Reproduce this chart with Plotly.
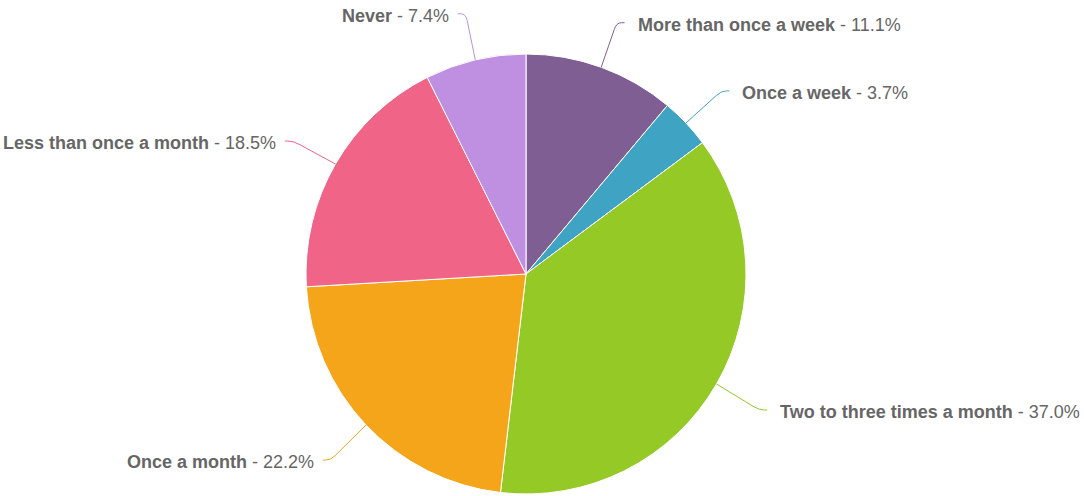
import math
import plotly.graph_objects as go

categories = ["More than once a week", "Once a week", "Two to three times a month",
              "Once a month", "Less than once a month", "Never"]
counts = [3, 1, 10, 6, 5, 2]
colors = ["#7F5F93", "#3FA4C4", "#95C925", "#F5A519", "#F06487", "#BF8FE2"]

W, H = 1084, 496
cx, cy, r = 526, 274, 220
label_rx, label_ry = 272, 269
h_shift, v_shift = 5.5, 1.5

total = sum(counts)
pcts = [c / total * 100 for c in counts]

fig = go.Figure()
fig.add_trace(go.Pie(
    labels=categories, values=counts, sort=False, direction="clockwise", rotation=0,
    marker=dict(colors=colors, line=dict(color="#ffffff", width=1)),
    textinfo="none", hoverinfo="label+percent", showlegend=False,
    domain=dict(x=[(cx - r) / W, (cx + r) / W], y=[(H - cy - r) / H, (H - cy + r) / H]),
))

shapes = []
annotations = []
cum = 0.0
for name, p, col in zip(categories, pcts, colors):
    mid = (cum + p / 2) / 100 * 2 * math.pi
    cum += p
    sx, sy = math.sin(mid), -math.cos(mid)
    sign = 1 if sx >= 0 else -1
    ex, ey = cx + r * sx, cy + r * sy
    lx = cx + sign * h_shift + label_rx * sx
    ly = cy + v_shift + label_ry * sy
    bx, by = lx - sign * 8, ly
    vx, vy = bx - ex, by - ey
    vl = math.hypot(vx, vy)
    kx, ky = bx - vx / vl * 7, by - vy / vl * 7
    path = (f"M {ex:.1f},{ey:.1f} L {kx:.1f},{ky:.1f} "
            f"Q {bx:.1f},{by:.1f} {bx + sign*5:.1f},{by:.1f} L {lx:.1f},{ly:.1f}")
    shapes.append(dict(type="path", path=path, xref="x", yref="y",
                       line=dict(color=col, width=1), layer="above"))
    annotations.append(dict(
        x=lx + (11 if sign > 0 else -7), y=ly + 2, xref="x", yref="y",
        xanchor="left" if sign > 0 else "right", yanchor="middle",
        text=f"<b>{name}</b> - {p:.1f}%", showarrow=False,
        font=dict(family="Liberation Sans, Arial, sans-serif", size=18, color="#666666"),
    ))

fig.update_layout(
    width=W, height=H, margin=dict(l=0, r=0, t=0, b=0),
    paper_bgcolor="#ffffff", plot_bgcolor="rgba(0,0,0,0)",
    xaxis=dict(range=[0, W], visible=False, fixedrange=True),
    yaxis=dict(range=[H, 0], visible=False, fixedrange=True),
    shapes=shapes, annotations=annotations,
)
fig.write_html("out.html", config={"displayModeBar": False},
               post_script="document.body.style.margin='0';document.body.style.overflow='hidden';")
